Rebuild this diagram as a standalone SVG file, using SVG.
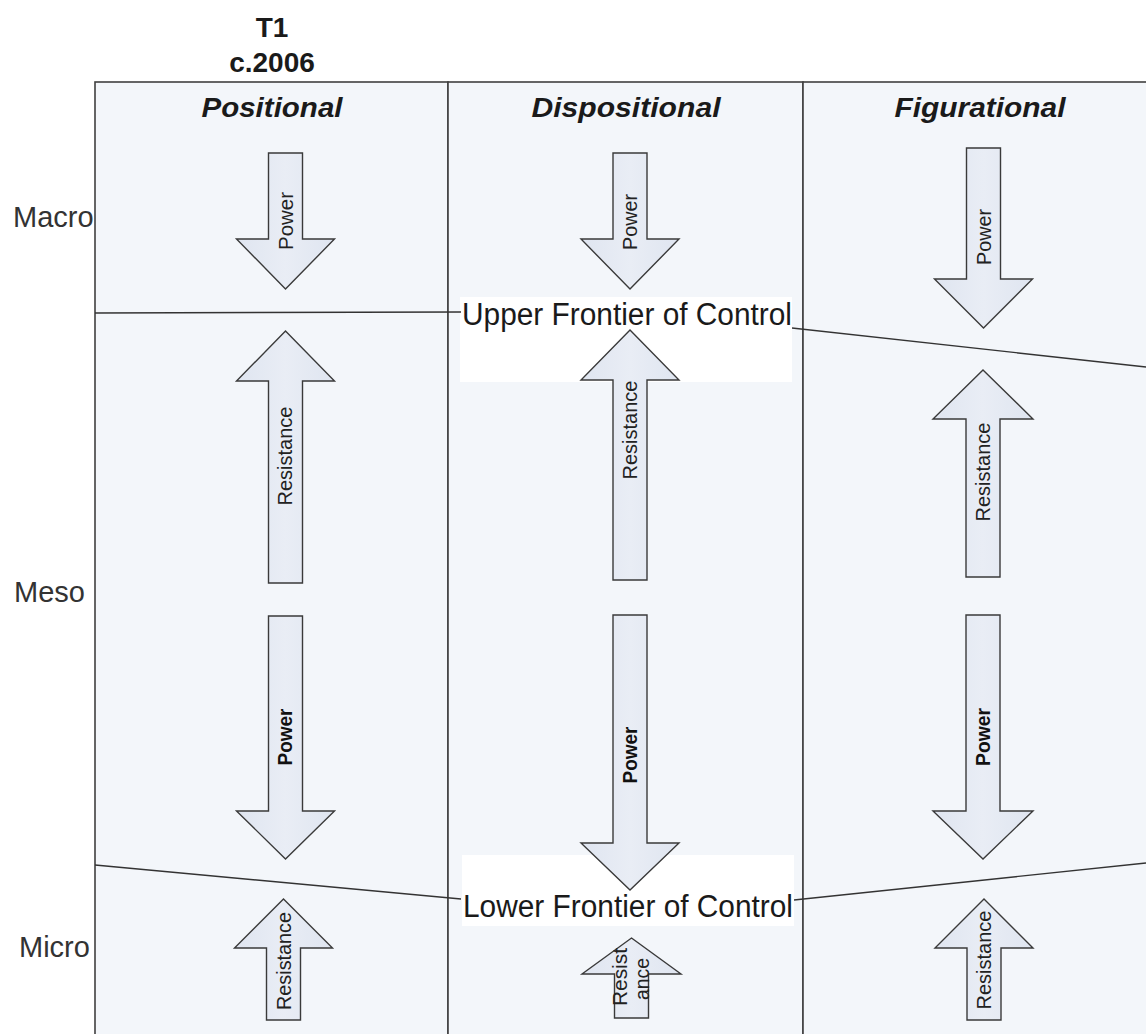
<svg xmlns="http://www.w3.org/2000/svg" width="1146" height="1034" viewBox="0 0 1146 1034">
<defs>
<linearGradient id="ag" x1="0" y1="0" x2="1" y2="0">
<stop offset="0" stop-color="#dfe5f0"/>
<stop offset="0.5" stop-color="#e9edf5"/>
<stop offset="1" stop-color="#dfe5f0"/>
</linearGradient>
</defs>
<style>
.panel{fill:#f3f6fa;stroke:#404040;stroke-width:1.6}
.arrow{fill:url(#ag);stroke:#3a3a3a;stroke-width:1.4;stroke-linejoin:miter}
.lbl{font-family:"Liberation Sans",Arial,sans-serif;font-size:29px;fill:#333}
.hdr{font-family:"Liberation Sans",Arial,sans-serif;font-size:28px;font-weight:bold;font-style:italic;fill:#1a1a1a;text-anchor:middle}
.ttl{font-family:"Liberation Sans",Arial,sans-serif;font-size:28px;font-weight:bold;fill:#1a1a1a;text-anchor:middle}
.at{font-family:"Liberation Sans",Arial,sans-serif;font-size:21px;fill:#222;text-anchor:middle}
.atb{font-family:"Liberation Sans",Arial,sans-serif;font-size:20px;font-weight:bold;fill:#111;text-anchor:middle}
.fr{font-family:"Liberation Sans",Arial,sans-serif;font-size:31px;fill:#1a1a1a}
.box{fill:#ffffff}
.line{fill:none;stroke:#333;stroke-width:1.4}
</style>
<rect width="1146" height="1034" fill="#ffffff"/>

<g id="title">
<text class="ttl" x="272" y="37">T1</text>
<text class="ttl" x="272" y="72">c.2006</text>
</g>

<g id="levels">
<text class="lbl" x="13" y="227">Macro</text>
<text class="lbl" x="14" y="602">Meso</text>
<text class="lbl" x="19" y="957">Micro</text>
</g>

<g id="panel-positional">
<rect class="panel" x="95" y="82" width="353" height="980"/>
<text class="hdr" x="272" y="117" textLength="141" lengthAdjust="spacingAndGlyphs">Positional</text>
</g>
<g id="panel-dispositional">
<rect class="panel" x="448" y="82" width="355" height="980"/>
<text class="hdr" x="626" y="117" textLength="189" lengthAdjust="spacingAndGlyphs">Dispositional</text>
</g>
<g id="panel-figurational">
<rect class="panel" x="803" y="82" width="400" height="980"/>
<text class="hdr" x="980" y="117" textLength="171" lengthAdjust="spacingAndGlyphs">Figurational</text>
</g>

<g id="upper-frontier">
<rect class="box" x="460" y="297" width="332" height="85"/>
<text class="fr" x="462" y="325" textLength="330" lengthAdjust="spacingAndGlyphs">Upper Frontier of Control</text>
</g>
<g id="lower-frontier">
<rect class="box" x="462" y="855" width="332" height="71"/>
<text class="fr" x="463" y="917" textLength="330" lengthAdjust="spacingAndGlyphs">Lower Frontier of Control</text>
</g>

<g id="connectors">
<path class="line" d="M95,313 L461,312"/>
<path class="line" d="M792,328 L1146,367"/>
<path class="line" d="M95,865 L461,899"/>
<path class="line" d="M794,900 L1146,863"/>
</g>

<g id="pos-macro-power">
<path class="arrow" d="M268.5,153 H302.5 V239 H334.5 L285.5,289 L236.5,239 H268.5 Z"/>
<text class="at" transform="translate(293,221) rotate(-90)" textLength="58" lengthAdjust="spacingAndGlyphs">Power</text>
</g>
<g id="pos-meso-resistance">
<path class="arrow" d="M285.5,331 L334.5,381 H302.5 V583 H268.5 V381 H236.5 Z"/>
<text class="at" transform="translate(292,456) rotate(-90)" textLength="99" lengthAdjust="spacingAndGlyphs">Resistance</text>
</g>
<g id="pos-meso-power">
<path class="arrow" d="M268.5,616 H302.5 V811 H334.5 L285.5,859 L236.5,811 H268.5 Z"/>
<text class="atb" transform="translate(292,737) rotate(-90)" textLength="57" lengthAdjust="spacingAndGlyphs">Power</text>
</g>
<g id="pos-micro-resistance">
<path class="arrow" d="M283.5,899 L332.5,948 H300.5 V1020 H266.5 V948 H234.5 Z"/>
<text class="at" transform="translate(291,961) rotate(-90)" textLength="98" lengthAdjust="spacingAndGlyphs">Resistance</text>
</g>

<g id="disp-macro-power">
<path class="arrow" d="M613,153 H647 V239 H679 L630,289 L581,239 H613 Z"/>
<text class="at" transform="translate(637,222) rotate(-90)" textLength="56" lengthAdjust="spacingAndGlyphs">Power</text>
</g>
<g id="disp-meso-resistance">
<path class="arrow" d="M630,330 L679,380 H647 V580 H613 V380 H581 Z"/>
<text class="at" transform="translate(637,430) rotate(-90)" textLength="99" lengthAdjust="spacingAndGlyphs">Resistance</text>
</g>
<g id="disp-meso-power">
<path class="arrow" d="M613,615 H647 V843 H679 L630,890 L581,843 H613 Z"/>
<text class="atb" transform="translate(637,755) rotate(-90)" textLength="57" lengthAdjust="spacingAndGlyphs">Power</text>
</g>
<g id="disp-micro-resistance">
<path class="arrow" d="M631.5,938 L681,974 H648.5 V1018 H614.5 V974 H582 Z"/>
<text class="at" transform="translate(627,977) rotate(-90)" textLength="58" lengthAdjust="spacingAndGlyphs">Resist</text>
<text class="at" transform="translate(649,979) rotate(-90)" textLength="42" lengthAdjust="spacingAndGlyphs">ance</text>
</g>

<g id="fig-macro-power">
<path class="arrow" d="M966.5,148 H1000.5 V279 H1032.5 L983.5,328 L934.5,279 H966.5 Z"/>
<text class="at" transform="translate(991,237) rotate(-90)" textLength="56" lengthAdjust="spacingAndGlyphs">Power</text>
</g>
<g id="fig-meso-resistance">
<path class="arrow" d="M983,370 L1033,419 H1000 V577 H966 V419 H933 Z"/>
<text class="at" transform="translate(990,472) rotate(-90)" textLength="99" lengthAdjust="spacingAndGlyphs">Resistance</text>
</g>
<g id="fig-meso-power">
<path class="arrow" d="M966,615 H1000 V811 H1033 L983,859 L933,811 H966 Z"/>
<text class="atb" transform="translate(990,737) rotate(-90)" textLength="58" lengthAdjust="spacingAndGlyphs">Power</text>
</g>
<g id="fig-micro-resistance">
<path class="arrow" d="M984,899 L1033,948 H1001 V1020 H967 V948 H935 Z"/>
<text class="at" transform="translate(991,960) rotate(-90)" textLength="99" lengthAdjust="spacingAndGlyphs">Resistance</text>
</g>
</svg>
